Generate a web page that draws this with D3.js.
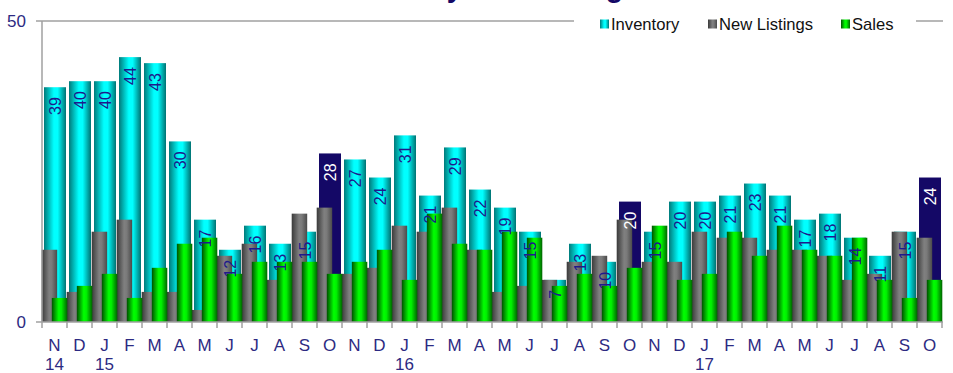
<!DOCTYPE html>
<html>
<head>
<meta charset="utf-8">
<script src="https://cdn.jsdelivr.net/npm/d3@7"></script>
<style>
  html, body { margin: 0; padding: 0; background: #fff; }
  svg { display: block; font-family: "Liberation Sans", Arial, sans-serif; }
</style>
</head>
<body>
<svg id="chart" width="953" height="373"></svg>
<script>
// Monthly figures, Nov 2014 – Oct 2017
const months = ["N","D","J","F","M","A","M","J","J","A","S","O",
                "N","D","J","F","M","A","M","J","J","A","S","O",
                "N","D","J","F","M","A","M","J","J","A","S","O"];
const yearIndex = [0, 2, 14, 26];
const yearText  = ["14", "15", "16", "17"];

const inventory   = [39,40,40,44,43,30,17,12,16,13,15,28,27,24,31,21,29,22,19,15,7,13,10,20,15,20,20,21,23,21,17,18,14,11,15,24];
const newListings = [12,5,15,17,5,5,2,11,13,7,18,19,8,9,16,15,19,12,5,6,7,10,11,17,10,10,15,14,14,12,12,11,7,8,15,14];
const sales       = [4,6,8,4,9,13,14,8,10,10,10,8,10,12,7,18,13,12,15,14,6,8,6,9,16,7,8,15,11,16,12,11,14,7,4,7];

const seriesNames = ["Inventory", "New Listings", "Sales"];
const yTicks = [0, 50];

const svg = d3.select("#chart");
const navy = "#140866";
const textNavy = "#2d2a82";
const axisGrey = "#a0a0a0";

const x = d3.scaleBand().domain(d3.range(months.length)).range([42, 942]).padding(0);
const y = d3.scaleLinear().domain([0, 50]).range([322, 21]);
const bw = x.bandwidth();

// Horizontal shading used for the bar fills
const defs = svg.append("defs");
function grad(id, stops) {
  const g = defs.append("linearGradient").attr("id", id)
    .attr("x1", "0%").attr("x2", "100%").attr("y1", "0%").attr("y2", "0%");
  stops.forEach(([o, c]) => g.append("stop").attr("offset", o).attr("stop-color", c));
}
grad("gInv",   [["0%", "#007a7a"], ["45%", "#00ffff"], ["62%", "#00ffff"], ["100%", "#007272"]]);
grad("gList",  [["0%", "#3a3a3a"], ["48%", "#808080"], ["65%", "#7a7a7a"], ["100%", "#4a4a4a"]]);
grad("gSales", [["0%", "#005000"], ["45%", "#00ff00"], ["62%", "#00f000"], ["100%", "#006400"]]);

// Title (sits above the visible area)
svg.append("text")
  .attr("x", 334).attr("y", -3)
  .attr("fill", navy).attr("font-size", 28.6).attr("font-weight", "bold")
  .text("Inventory and Listings");

// Plot frame: top rule
svg.append("line").attr("x1", 42).attr("x2", 943).attr("y1", y(50)).attr("y2", y(50))
  .attr("stroke", axisGrey).attr("stroke-width", 1.5);

// Inventory bars (behind); October bars are highlighted
const isOct = i => months[i] === "O";
svg.append("g").selectAll("rect").data(inventory).join("rect")
  .attr("x", (d, i) => x(i) + 2)
  .attr("width", bw - 3)
  .attr("y", d => y(d))
  .attr("height", d => y(0) - y(d))
  .attr("fill", (d, i) => isOct(i) ? navy : "url(#gInv)");

// New listings
svg.append("g").selectAll("rect").data(newListings).join("rect")
  .attr("x", (d, i) => x(i) - 0.3)
  .attr("width", 15.5)
  .attr("y", d => y(d))
  .attr("height", d => y(0) - y(d))
  .attr("fill", "url(#gList)");

// Sales
svg.append("g").selectAll("rect").data(sales).join("rect")
  .attr("x", (d, i) => x(i) + 9.8)
  .attr("width", 15.5)
  .attr("y", d => y(d))
  .attr("height", d => y(0) - y(d))
  .attr("fill", "url(#gSales)");

// Inventory value labels, rotated
svg.append("g").selectAll("text").data(inventory).join("text")
  .attr("transform", (d, i) => `translate(${x(i) + 2 + (bw - 3) / 2},${y(d) + 10}) rotate(-90)`)
  .attr("text-anchor", "end")
  .attr("dy", "0.36em")
  .attr("font-size", 16)
  .attr("fill", (d, i) => isOct(i) ? "#ffffff" : "#1e1a8c")
  .text(d => d);

// Y axis
const yAxis = svg.append("g");
yAxis.append("line").attr("x1", 42).attr("x2", 42).attr("y1", y(50)).attr("y2", y(0))
  .attr("stroke", axisGrey).attr("stroke-width", 1.5);
yAxis.selectAll("line.t").data(yTicks).join("line").attr("class", "t")
  .attr("x1", 36).attr("x2", 42).attr("y1", d => y(d)).attr("y2", d => y(d))
  .attr("stroke", axisGrey).attr("stroke-width", 1.5);
yAxis.selectAll("text").data(yTicks).join("text")
  .attr("x", 26).attr("y", d => y(d)).attr("dy", "0.36em")
  .attr("text-anchor", "end").attr("font-size", 17).attr("fill", textNavy)
  .text(d => d);

// X axis
const xAxis = svg.append("g");
xAxis.append("line").attr("x1", 42).attr("x2", 943).attr("y1", y(0)).attr("y2", y(0))
  .attr("stroke", axisGrey).attr("stroke-width", 1.5);
xAxis.selectAll("line.t").data(d3.range(months.length + 1)).join("line").attr("class", "t")
  .attr("x1", i => 42 + i * bw).attr("x2", i => 42 + i * bw)
  .attr("y1", y(0)).attr("y2", y(0) + 6)
  .attr("stroke", axisGrey).attr("stroke-width", 1.5);
xAxis.selectAll("text.m").data(months).join("text").attr("class", "m")
  .attr("x", (d, i) => x(i) + bw / 2).attr("y", 351)
  .attr("text-anchor", "middle").attr("font-size", 17).attr("fill", textNavy)
  .text(d => d);
xAxis.selectAll("text.yr").data(yearIndex).join("text").attr("class", "yr")
  .attr("x", (d) => x(d) + bw / 2).attr("y", 369.5)
  .attr("text-anchor", "middle").attr("font-size", 17).attr("fill", textNavy)
  .text((d, k) => yearText[k]);

// Legend
const legend = svg.append("g");
legend.append("rect").attr("x", 574).attr("y", 9).attr("width", 342).attr("height", 26).attr("fill", "#fff");
const legendFills = ["url(#gInv)", "url(#gList)", "url(#gSales)"];
const swatchX = [600, 708, 841];
seriesNames.forEach((name, k) => {
  legend.append("rect").attr("x", swatchX[k]).attr("y", 19.5).attr("width", 9).attr("height", 9)
    .attr("fill", legendFills[k]);
  legend.append("text").attr("x", swatchX[k] + 11).attr("y", 30)
    .attr("font-size", 16.6).attr("fill", "#111").text(name);
});
</script>
</body>
</html>
